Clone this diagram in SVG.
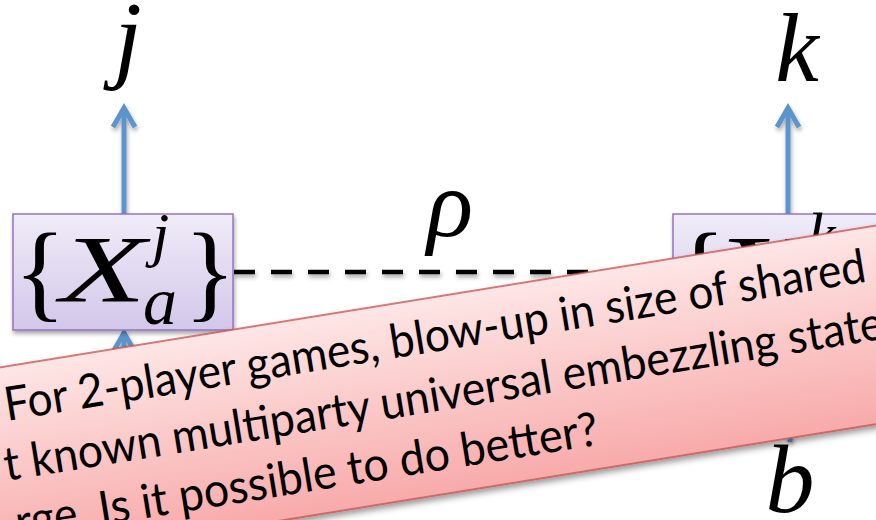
<svg xmlns="http://www.w3.org/2000/svg" width="876" height="520" viewBox="0 0 876 520">
  <defs>
    <linearGradient id="boxGrad" x1="0" y1="0" x2="0" y2="1">
      <stop offset="0" stop-color="#f0ecf8"/>
      <stop offset="1" stop-color="#d3c7ea"/>
    </linearGradient>
    <linearGradient id="calloutGrad" x1="0" y1="0" x2="0" y2="1">
      <stop offset="0" stop-color="#fee6e6"/>
      <stop offset="1" stop-color="#f8aaaa"/>
    </linearGradient>
    <filter id="shadow" x="-10%" y="-10%" width="130%" height="140%">
      <feDropShadow dx="1" dy="3" stdDeviation="2" flood-color="#000" flood-opacity="0.35"/>
    </filter>
    <filter id="shadowBig" x="-10%" y="-20%" width="130%" height="150%">
      <feDropShadow dx="1" dy="4" stdDeviation="3" flood-color="#000" flood-opacity="0.4"/>
    </filter>
  </defs>
  <style>
    .math { font-family: "Liberation Serif", "DejaVu Serif", serif; font-style: italic; fill: #000; }
    .brace { font-family: "Liberation Serif", "DejaVu Serif", serif; font-style: normal; fill: #000; }
    .box { fill: url(#boxGrad); stroke: #9673c2; stroke-width: 1.5; }
    .arrow { fill: none; stroke: #5b94cc; stroke-width: 5; stroke-linecap: butt; stroke-linejoin: miter; }
    .dash { fill: none; stroke: #000; stroke-width: 4.5; stroke-dasharray: 21 16; }
    .callout { fill: url(#calloutGrad); stroke: #c9504c; stroke-width: 1.5; }
    .ctext { font-family: "Lato", "Liberation Sans", sans-serif; font-size: 47px; fill: #000; }
  </style>

  <g id="connectors">
    <g filter="url(#shadow)">
      <line class="arrow" x1="124" y1="214" x2="124" y2="109"/>
      <polyline class="arrow" points="113,127 124,108 135,127"/>
      <line class="arrow" x1="788" y1="214" x2="788" y2="109"/>
      <polyline class="arrow" points="777,127 788,108 799,127"/>
      <line class="arrow" x1="124" y1="440" x2="124" y2="334"/>
      <polyline class="arrow" points="113,352 124,333 135,352"/>
      <line class="arrow" x1="790" y1="442" x2="790" y2="334"/>
      <polyline class="arrow" points="779,352 790,333 801,352"/>
      <line class="dash" x1="234" y1="272" x2="673" y2="272"/>
    </g>
  </g>

  <g id="label-j">
    <text class="math" x="128" y="70" font-size="100" text-anchor="middle">j</text>
  </g>
  <g id="label-k">
    <text class="math" x="797" y="81" font-size="98" text-anchor="middle">k</text>
  </g>
  <g id="label-rho">
    <text class="math" x="450" y="236" font-size="96" text-anchor="middle">ρ</text>
  </g>
  <g id="label-b">
    <text class="math" x="790" y="512" font-size="98" text-anchor="middle">b</text>
  </g>

  <g id="node-left">
    <rect class="box" x="13" y="214" width="220" height="116" filter="url(#shadow)"/>
    <text class="brace" x="14" y="308" font-size="108">{</text>
    <text class="math" x="60" y="302" font-size="96" textLength="86" lengthAdjust="spacingAndGlyphs">X</text>
    <text class="math" x="152" y="255" font-size="62">j</text>
    <text class="math" x="143" y="324" font-size="68">a</text>
    <text class="brace" x="184" y="308" font-size="108">}</text>
  </g>

  <g id="node-right">
    <rect class="box" x="673" y="214" width="220" height="116" filter="url(#shadow)"/>
    <text class="brace" x="674" y="308" font-size="108">{</text>
    <text class="math" x="720" y="302" font-size="96" textLength="84" lengthAdjust="spacingAndGlyphs">Y</text>
    <text class="math" x="808" y="255" font-size="62">k</text>
    <text class="math" x="806" y="324" font-size="68">b</text>
    <text class="brace" x="844" y="308" font-size="108">}</text>
  </g>

  <g id="callout" transform="translate(7,421) rotate(-9.2)">
    <rect class="callout" x="-200" y="-54" width="1200" height="196" filter="url(#shadowBig)"/>
    <text class="ctext" x="0" y="0" textLength="872" lengthAdjust="spacingAndGlyphs">For 2-player games, blow-up in size of shared</text>
    <text class="ctext" x="-10" y="59" textLength="890" lengthAdjust="spacingAndGlyphs">t known multiparty universal embezzling state</text>
    <text class="ctext" x="-8" y="118" textLength="590" lengthAdjust="spacingAndGlyphs">rge. Is it possible to do better?</text>
  </g>
</svg>
